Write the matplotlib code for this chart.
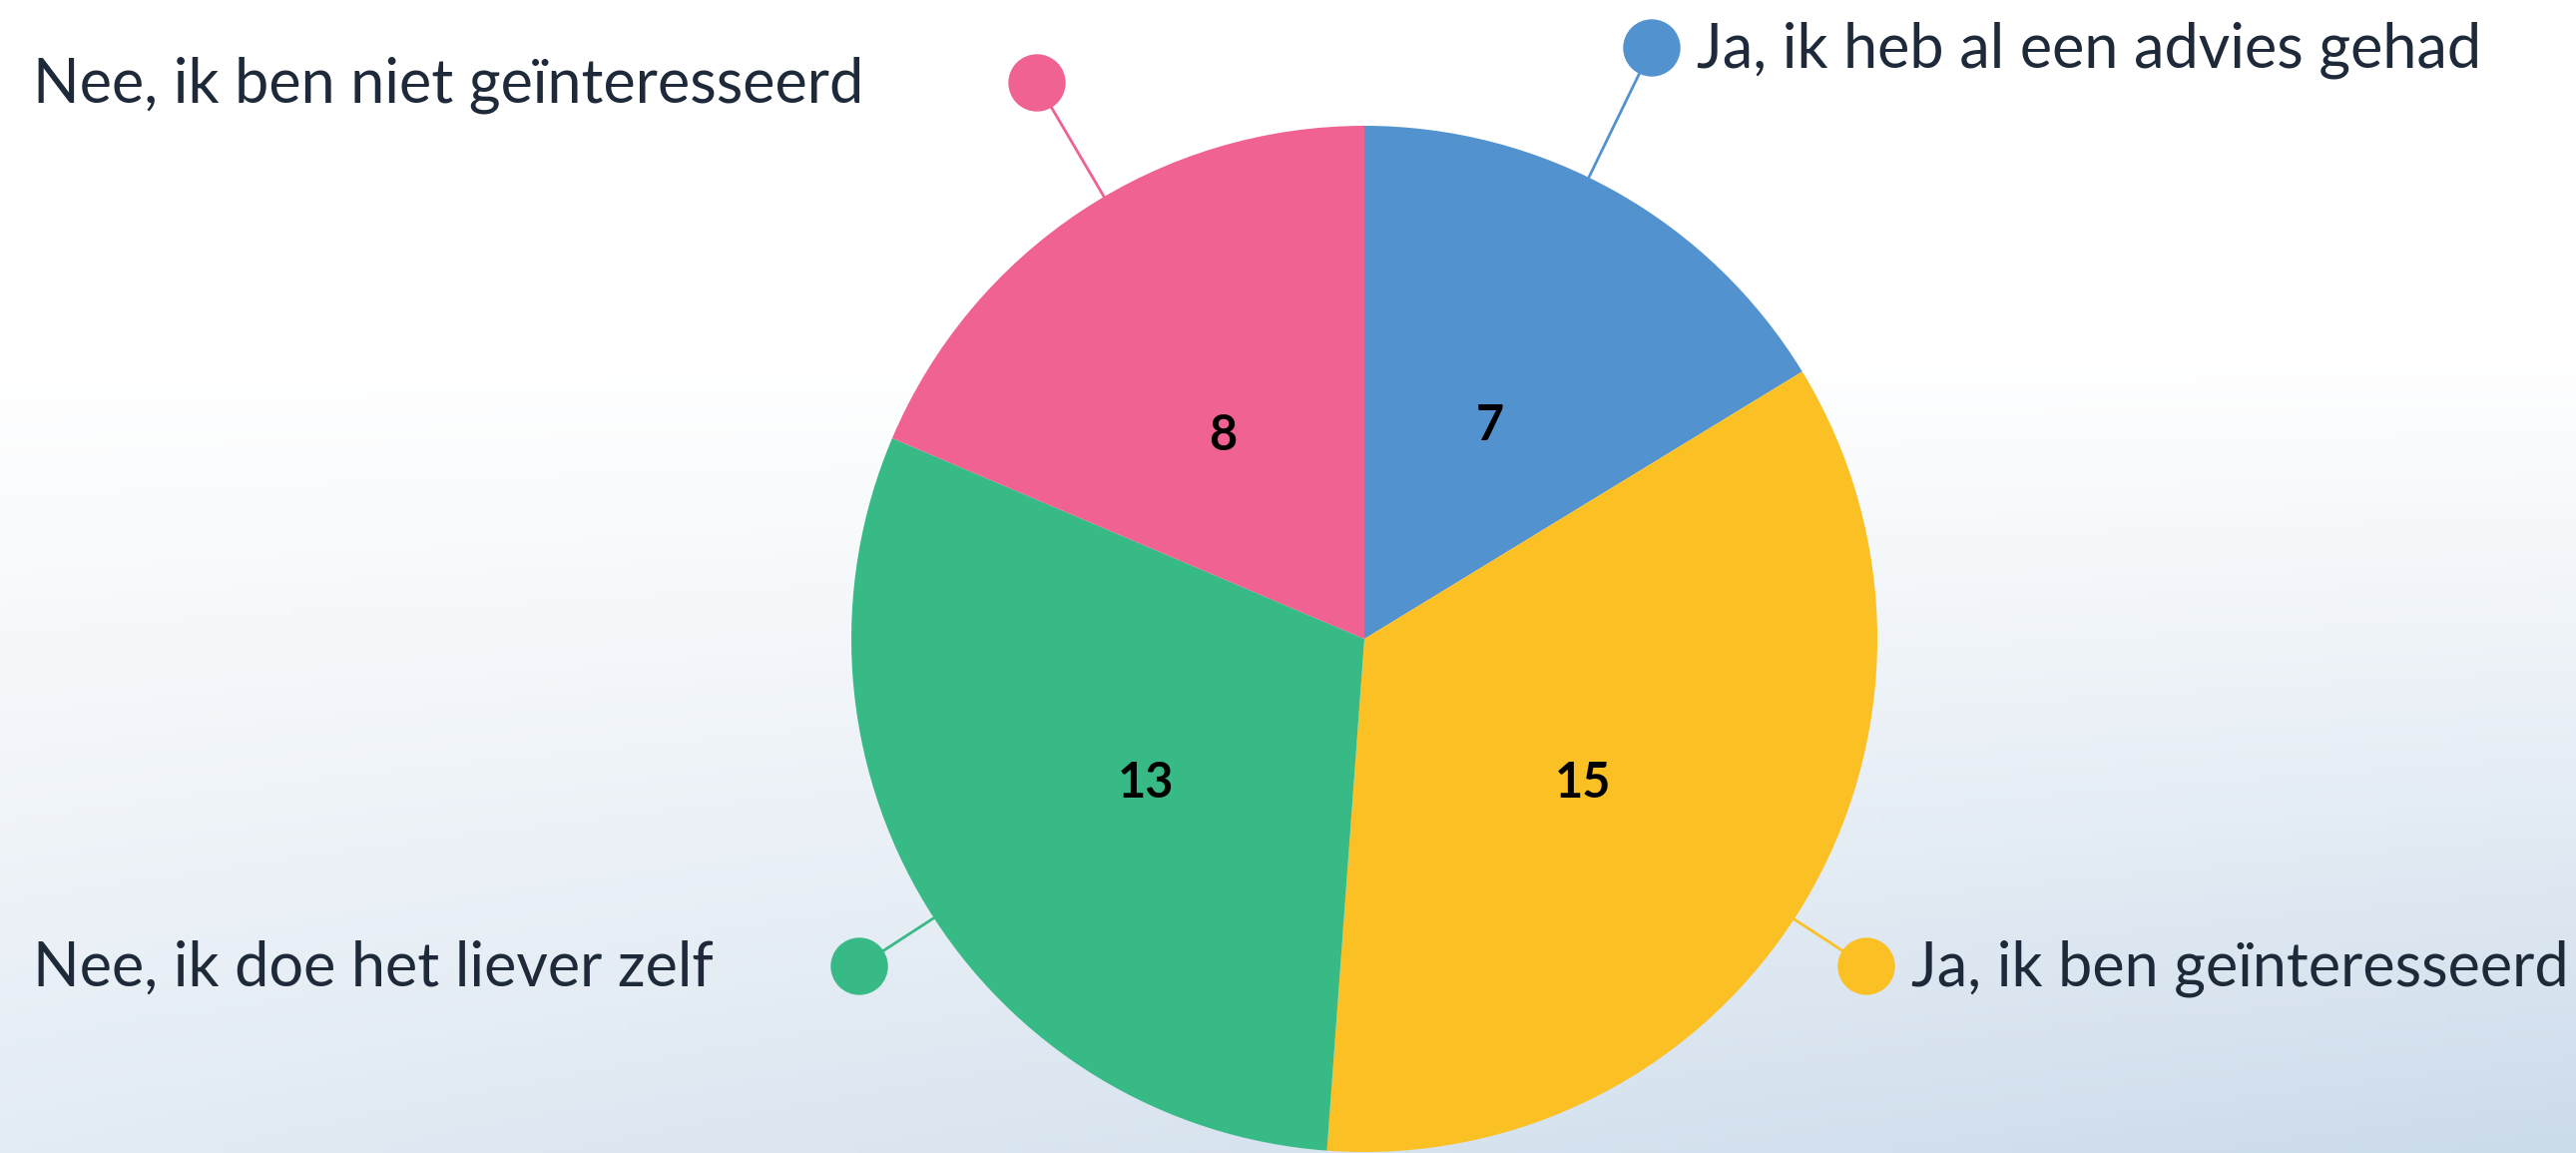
import numpy as np
import matplotlib
matplotlib.use("Agg")
import matplotlib.pyplot as plt
from matplotlib.patches import Circle

plt.rcParams["font.family"] = ["Lato", "DejaVu Sans"]

# data
labels = ["Ja, ik heb al een advies gehad", "Ja, ik ben geïnteresseerd",
          "Nee, ik doe het liever zelf", "Nee, ik ben niet geïnteresseerd"]
counts = [7, 15, 13, 8]
colors = ["#5292CF", "#FBC124", "#38BA86", "#EF6292"]

# layout in image pixels (y from top)
W, H = 2581, 1155
cx, cy, R = 1367, 640, 514
dot_xy = [(1655, 48), (1870, 968), (861, 968), (1039, 83)]
dot_r = 28
text_side = ["right", "right", "left", "left"]
text_color = "#1E2A3A"


def py(y):
    return H - y


fig = plt.figure(figsize=(W / 100, H / 100), dpi=100)
ax = fig.add_axes([0, 0, 1, 1])

# background gradient
xf = np.linspace(0, 1, 300)[None, :]
yf = np.linspace(0, 1, 150)[:, None]
t = np.clip((yf - 0.3) / 0.7, 0, 1) ** 1.1 * (0.55 + 0.45 * xf)
base = np.array([0.80, 0.86, 0.92])
grad = 1 - t[..., None] * (1 - base)
ax.imshow(grad, extent=(0, W, 0, H), origin="upper", aspect="auto", zorder=0)

total = sum(counts)
wedges, _, nums = ax.pie(
    counts, colors=colors, startangle=90, counterclock=False,
    radius=R, center=(cx, py(cy)),
    autopct=lambda p: f"{round(p * total / 100)}", pctdistance=0.5,
    wedgeprops=dict(linewidth=0),
    textprops=dict(fontsize=35, fontweight="bold", color="black"))
for w in wedges:
    w.set_zorder(2)
for n in nums:
    x, y = n.get_position()
    n.set_position((x, y - 11))
    n.set_zorder(3)

for i, (dx, dy) in enumerate(dot_xy):
    vx, vy = dx - cx, dy - cy
    d = np.hypot(vx, vy)
    ex, ey = cx + vx / d * R, cy + vy / d * R
    ax.plot([ex, dx], [py(ey), py(dy)], color=colors[i], lw=2, zorder=1)
    ax.add_patch(Circle((dx, py(dy)), dot_r, color=colors[i], zorder=4))
    if text_side[i] == "right":
        ax.text(dx + dot_r + 17, py(dy + 2), labels[i], ha="left", va="center",
                fontsize=44, color=text_color, zorder=5)
    else:
        ax.text(33, py(dy + 2), labels[i], ha="left", va="center",
                fontsize=44, color=text_color, zorder=5)

ax.set_xlim(0, W)
ax.set_ylim(0, H)
ax.set_aspect("equal")
ax.axis("off")

fig.savefig("out.png", dpi=100)
